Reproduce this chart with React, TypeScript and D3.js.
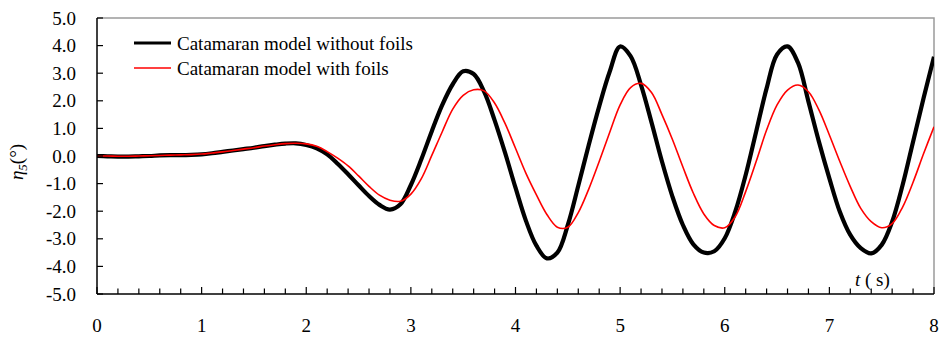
import React, { useEffect, useRef } from 'react';
import * as d3 from 'd3';

// sample times (s)
const times = [
  0.0, 0.1, 0.2, 0.3, 0.4, 0.5, 0.6, 0.7, 0.8, 0.9,
  1.0, 1.1, 1.2, 1.3, 1.4, 1.5, 1.6, 1.7, 1.8, 1.9,
  2.0, 2.1, 2.2, 2.3, 2.4, 2.5, 2.6, 2.7, 2.8, 2.9,
  3.0, 3.1, 3.2, 3.3, 3.4, 3.5, 3.6, 3.7, 3.8, 3.9,
  4.0, 4.1, 4.2, 4.3, 4.4, 4.5, 4.6, 4.7, 4.8, 4.9,
  5.0, 5.1, 5.2, 5.3, 5.4, 5.5, 5.6, 5.7, 5.8, 5.9,
  6.0, 6.1, 6.2, 6.3, 6.4, 6.5, 6.6, 6.7, 6.8, 6.9,
  7.0, 7.1, 7.2, 7.3, 7.4, 7.5, 7.6, 7.7, 7.8, 7.9,
  8.0,
];

// pitch angle (deg), catamaran without foils
const withoutFoils = [
  0.0, -0.01, -0.02, -0.02, -0.01, 0.0, 0.02, 0.03, 0.03, 0.04,
  0.06, 0.1, 0.15, 0.2, 0.25, 0.3, 0.36, 0.41, 0.45, 0.46,
  0.4, 0.28, 0.06, -0.28, -0.66, -1.06, -1.45, -1.77, -1.94, -1.75,
  -1.05, -0.12, 0.9, 1.85, 2.6, 3.07, 2.97, 2.33, 1.3, 0.12,
  -1.15, -2.35, -3.25, -3.71, -3.5, -2.5, -1.08, 0.4, 1.8, 3.05,
  3.97, 3.62, 2.57, 1.22, -0.2, -1.47, -2.5, -3.2, -3.5, -3.45,
  -2.98, -2.02, -0.69, 0.88, 2.45, 3.68, 3.97, 3.38, 1.97, 0.52,
  -0.81, -2.02, -2.86, -3.34, -3.53, -3.22, -2.38, -1.05, 0.52, 2.09,
  3.6,
];

// pitch angle (deg), catamaran with foils
const withFoils = [
  0.0, 0.0, -0.01, -0.01, 0.0, 0.01, 0.02, 0.03, 0.04, 0.05,
  0.07, 0.11, 0.15, 0.2, 0.25, 0.3, 0.36, 0.41, 0.45, 0.46,
  0.44, 0.35, 0.16, -0.08, -0.36, -0.72, -1.1, -1.42, -1.6, -1.64,
  -1.38, -0.82, 0.02, 0.88, 1.7, 2.2, 2.4, 2.36, 1.92, 1.18,
  0.28, -0.63, -1.41, -2.12, -2.58, -2.58, -2.05, -1.2, -0.2, 0.85,
  1.85, 2.48, 2.63, 2.3, 1.5, 0.6, -0.4, -1.35, -2.1, -2.52,
  -2.6, -2.2, -1.29, -0.2, 0.94, 1.85, 2.39, 2.57, 2.33, 1.67,
  0.76, -0.2, -1.11, -1.9, -2.38, -2.6, -2.45, -1.85, -0.95, 0.08,
  1.06,
];

const seriesNames = ['Catamaran model without foils', 'Catamaran model with foils'];
const xTicks = [0, 1, 2, 3, 4, 5, 6, 7, 8];
const yTicks = [5, 4, 3, 2, 1, 0, -1, -2, -3, -4, -5];

const FONT = "'Liberation Serif', 'Times New Roman', serif";

const App = () => {
  const ref = useRef<SVGSVGElement | null>(null);

  useEffect(() => {
    if (!ref.current) return;
    const svg = d3.select(ref.current);
    svg.selectAll('*').remove();

    const W = 943;
    const H = 337;
    const margin = { top: 18, right: 9, bottom: 43, left: 97 };

    const x = d3.scaleLinear().domain([0, 8]).range([margin.left, W - margin.right]);
    const y = d3.scaleLinear().domain([-5, 5]).range([H - margin.bottom, margin.top]);

    svg
      .append('rect')
      .attr('width', W)
      .attr('height', H)
      .attr('fill', '#fff');

    // clip for curves
    svg
      .append('clipPath')
      .attr('id', 'plot-clip')
      .append('rect')
      .attr('x', x(0))
      .attr('y', y(5))
      .attr('width', x(8) - x(0))
      .attr('height', y(-5) - y(5));

    // frame (top/right gray)
    svg
      .append('path')
      .attr('d', `M${x(0)},${y(5)}H${x(8)}V${y(-5)}`)
      .attr('fill', 'none')
      .attr('stroke', '#9a9a9a')
      .attr('stroke-width', 1.5);

    // lines
    const line = d3
      .line<number>()
      .x((_, i) => x(times[i]))
      .y((d) => y(d))
      .curve(d3.curveCatmullRom.alpha(0.5));

    const plot = svg.append('g').attr('clip-path', 'url(#plot-clip)');
    plot
      .append('path')
      .datum(withoutFoils)
      .attr('fill', 'none')
      .attr('stroke', '#000')
      .attr('stroke-width', 4.2)
      .attr('stroke-linejoin', 'round')
      .attr('d', line);
    plot
      .append('path')
      .datum(withFoils)
      .attr('fill', 'none')
      .attr('stroke', '#ff0000')
      .attr('stroke-width', 1.6)
      .attr('d', line);

    // y axis
    const yAxis = svg.append('g');
    yAxis
      .append('line')
      .attr('x1', x(0))
      .attr('x2', x(0))
      .attr('y1', y(5))
      .attr('y2', y(-5))
      .attr('stroke', '#000')
      .attr('stroke-width', 1.5);
    yAxis
      .selectAll('line.tick')
      .data(yTicks)
      .enter()
      .append('line')
      .attr('class', 'tick')
      .attr('x1', x(0))
      .attr('x2', x(0) + 6)
      .attr('y1', (d) => y(d))
      .attr('y2', (d) => y(d))
      .attr('stroke', '#000')
      .attr('stroke-width', 1.2);
    yAxis
      .selectAll('text')
      .data(yTicks)
      .enter()
      .append('text')
      .attr('x', x(0) - 21)
      .attr('y', (d) => y(d))
      .attr('dy', '0.35em')
      .attr('text-anchor', 'end')
      .attr('font-family', FONT)
      .attr('font-size', 19)
      .text((d) => d.toFixed(1));

    // x axis
    const xAxis = svg.append('g');
    xAxis
      .append('line')
      .attr('x1', x(0))
      .attr('x2', x(8))
      .attr('y1', y(-5))
      .attr('y2', y(-5))
      .attr('stroke', '#000')
      .attr('stroke-width', 1.5);
    xAxis
      .selectAll('line.tick')
      .data(x.ticks(40))
      .enter()
      .append('line')
      .attr('class', 'tick')
      .attr('x1', (d) => x(d))
      .attr('x2', (d) => x(d))
      .attr('y1', y(-5))
      .attr('y2', (d) => y(-5) - (Number.isInteger(Math.round(d * 1000) / 1000) ? 7 : 5.5))
      .attr('stroke', '#000')
      .attr('stroke-width', 1.2);
    xAxis
      .selectAll('text')
      .data(xTicks)
      .enter()
      .append('text')
      .attr('x', (d) => x(d))
      .attr('y', 332)
      .attr('text-anchor', 'middle')
      .attr('font-family', FONT)
      .attr('font-size', 19)
      .text((d) => String(d));

    // x title
    const xt = svg
      .append('text')
      .attr('x', 855)
      .attr('y', 286)
      .attr('font-family', FONT)
      .attr('font-size', 19);
    xt.append('tspan').attr('font-style', 'italic').text('t');
    xt.append('tspan').text(' ( s)');

    // y title
    const yt = svg
      .append('text')
      .attr('transform', 'translate(23,162) rotate(-90)')
      .attr('text-anchor', 'middle')
      .attr('font-family', FONT)
      .attr('font-size', 19);
    yt.append('tspan').attr('font-style', 'italic').text('η');
    yt.append('tspan')
      .attr('font-style', 'italic')
      .attr('font-size', 13)
      .attr('dy', 4)
      .text('5');
    yt.append('tspan').attr('dy', -4).text('(°)');

    // legend
    const legend = svg.append('g');
    const colors = ['#000', '#ff0000'];
    const widths = [3, 1.5];
    seriesNames.forEach((name, i) => {
      const ly = 43 + i * 25;
      legend
        .append('line')
        .attr('x1', 134)
        .attr('x2', 171)
        .attr('y1', ly)
        .attr('y2', ly)
        .attr('stroke', colors[i])
        .attr('stroke-width', widths[i]);
      legend
        .append('text')
        .attr('x', 177)
        .attr('y', ly)
        .attr('dy', '0.35em')
        .attr('font-family', FONT)
        .attr('font-size', 19)
        .text(name);
    });
  }, []);

  return (
    <svg
      ref={ref}
      width={943}
      height={337}
      style={{ position: 'absolute', left: 0, top: 0, display: 'block' }}
    />
  );
};

export default App;
